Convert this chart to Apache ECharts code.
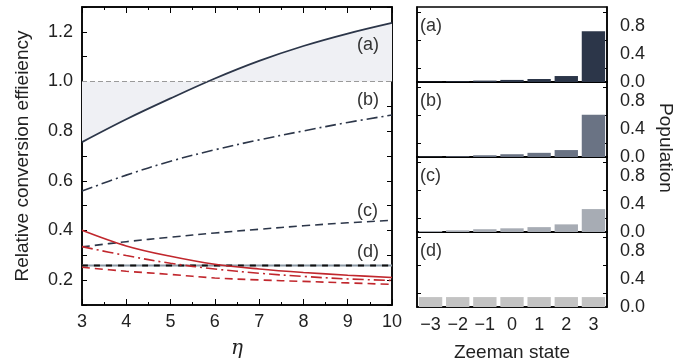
<!DOCTYPE html>
<html>
<head>
<meta charset="utf-8">
<script src="https://cdn.jsdelivr.net/npm/echarts/dist/echarts.min.js"></script>
<style>
  html, body { margin: 0; padding: 0; background: #fff; }
  #chart { width: 687px; height: 364px; }
</style>
</head>
<body>
<div id="chart"></div>
<script>
// --- data ---
const eta = [3, 4, 5, 6, 7, 8, 9, 10];
const effA = [0.756, 0.848, 0.932, 1.012, 1.083, 1.143, 1.193, 1.236];
const effB = [0.559, 0.623, 0.679, 0.725, 0.765, 0.801, 0.835, 0.865];
const effC = [0.334, 0.355, 0.373, 0.39, 0.405, 0.419, 0.431, 0.441];
const effD = [0.259, 0.259, 0.259, 0.259, 0.259, 0.259, 0.259, 0.259];
const redSolid = [0.401, 0.338, 0.296, 0.264, 0.245, 0.231, 0.22, 0.211];
const redDashDot = [0.335, 0.299, 0.268, 0.245, 0.228, 0.215, 0.205, 0.199];
const redDashed = [0.252, 0.236, 0.223, 0.209, 0.201, 0.195, 0.189, 0.183];
const referenceLevel = 1.0;

const zeemanStates = ['\u22123', '\u22122', '\u22121', '0', '1', '2', '3'];
const popA = [0.005, 0.01, 0.02, 0.03, 0.043, 0.086, 0.73];
const popB = [0.005, 0.01, 0.025, 0.04, 0.06, 0.10, 0.61];
const popC = [0.015, 0.024, 0.04, 0.053, 0.07, 0.11, 0.33];
const popD = [0.143, 0.143, 0.143, 0.143, 0.143, 0.143, 0.143];
const panelLabels = ['(a)', '(b)', '(c)', '(d)'];

const NAVY = '#2c3649';
const RED = '#c1272d';
const BAR_COLORS = ['#2c3649', '#6a7384', '#a7acb4', '#c3c3c3'];
const FONT = 'Liberation Sans';
const DASH = [8, 5];
const DASH_DOT = [11, 4, 2, 4];

const pairs = (ys) => eta.map((x, i) => [x, ys[i]]);

const chart = echarts.init(document.getElementById('chart'), null, { renderer: 'canvas' });

// layout
const leftGrid = { left: 82, top: 7, width: 310, height: 300 };
const panelLeft = 417, panelWidth = 190, panelTop = 7, panelH = 75;

const grids = [
  { ...leftGrid, show: true, borderColor: '#000', borderWidth: 1.5 },
];
for (let i = 0; i < 4; i++) {
  grids.push({ left: panelLeft, top: panelTop + i * panelH, width: panelWidth, height: panelH,
    show: true, borderColor: '#000', borderWidth: 1.5 });
}

const axisLine = { show: true, lineStyle: { color: '#000', width: 1.5 } };
const textStyle = { fontFamily: FONT, fontSize: 18, color: '#222' };

const xAxes = [
  {
    type: 'value', gridIndex: 0, min: 3, max: 10, interval: 1,
    axisLine, axisTick: { inside: true, length: 6, lineStyle: { color: '#000' } },
    minorTick: { show: true, splitNumber: 2, length: 3, lineStyle: { color: '#000' } },
    splitLine: { show: false },
    axisLabel: { ...textStyle, margin: 8 },
    name: '\u03b7', nameLocation: 'middle', nameGap: 34,
    nameTextStyle: { fontFamily: 'DejaVu Serif', fontStyle: 'italic', fontSize: 20, color: '#222' },
  },
  {
    type: 'value', gridIndex: 0, position: 'top', min: 3, max: 10, interval: 1,
    axisLine, axisTick: { inside: true, length: 6, lineStyle: { color: '#000' } },
    minorTick: { show: true, splitNumber: 2, length: 3, lineStyle: { color: '#000' } },
    splitLine: { show: false }, axisLabel: { show: false },
  },
];
const yAxes = [
  {
    type: 'value', gridIndex: 0, min: 0.1, max: 1.3, interval: 0.1,
    axisLine, axisTick: { inside: true, length: 5, lineStyle: { color: '#000' } },
    splitLine: { show: false },
    axisLabel: { ...textStyle, margin: 9,
      formatter: (v) => (Math.round(v * 10) % 2 === 0 ? v.toFixed(1) : '') },
    name: 'Relative conversion effieiency', nameLocation: 'middle', nameGap: 50,
    nameTextStyle: { ...textStyle, fontSize: 19 },
  },
  {
    type: 'value', gridIndex: 0, position: 'right', min: 0.1, max: 1.3, interval: 0.1,
    axisLine, axisTick: { inside: true, length: 5, lineStyle: { color: '#000' } },
    splitLine: { show: false }, axisLabel: { show: false },
  },
];

for (let i = 0; i < 4; i++) {
  const g = i + 1;
  xAxes.push({
    type: 'category', gridIndex: g, data: zeemanStates,
    axisLine, axisTick: { inside: true, alignWithLabel: true, length: 5, lineStyle: { color: '#000' } },
    axisLabel: { show: i === 3, ...textStyle, margin: 9 },
    name: i === 3 ? 'Zeeman state' : '', nameLocation: 'middle', nameGap: 36,
    nameTextStyle: { ...textStyle, fontSize: 19 },
  });
  yAxes.push({
    type: 'value', gridIndex: g, position: 'right', min: 0, max: 1.08, interval: 0.4,
    axisLine, axisTick: { inside: true, length: 5, lineStyle: { color: '#000' } },
    minorTick: { show: true, splitNumber: 2, length: 4, lineStyle: { color: '#000' } },
    splitLine: { show: false },
    axisLabel: { ...textStyle, margin: 13, showMaxLabel: false,
      formatter: (v) => (v <= 0.81 ? v.toFixed(1) : '') },
  });
  yAxes.push({
    type: 'value', gridIndex: g, position: 'left', min: 0, max: 1.08, interval: 0.4,
    axisLine, axisTick: { inside: true, length: 5, lineStyle: { color: '#000' } },
    minorTick: { show: true, splitNumber: 2, length: 4, lineStyle: { color: '#000' } },
    splitLine: { show: false }, axisLabel: { show: false },
  });
}
// top ticks on the first panel
xAxes.push({
  type: 'category', gridIndex: 1, position: 'top', data: zeemanStates,
  axisLine, axisTick: { inside: true, alignWithLabel: true, length: 5, lineStyle: { color: '#000' } },
  axisLabel: { show: false },
});

const lineSeries = (data, color, type, width, z) => ({
  type: 'line', xAxisIndex: 0, yAxisIndex: 0, data: pairs(data),
  smooth: 0.35, showSymbol: false, silent: true, z: z || 3,
  lineStyle: { color, width: width || 1.6, type },
});

const series = [
  {
    ...lineSeries(effA, NAVY, 'solid', 1.8, 4),
    areaStyle: { origin: referenceLevel, color: '#eff0f4', opacity: 1 },
    markLine: {
      silent: true, symbol: 'none', label: { show: false }, z: 5,
      lineStyle: { color: '#9a9a9a', type: [5, 3], width: 1 },
      data: [{ yAxis: referenceLevel }],
    },
  },
  lineSeries(effB, NAVY, DASH_DOT),
  lineSeries(effC, NAVY, DASH),
  lineSeries(effD, '#8c9aa6', 'solid', 2.2, 3),
  lineSeries(effD, '#111', [6, 6], 2.2, 4),
  lineSeries(redSolid, RED, 'solid', 1.6, 6),
  lineSeries(redDashDot, RED, DASH_DOT, 1.6, 6),
  lineSeries(redDashed, RED, DASH, 1.6, 6),
];

[popA, popB, popC, popD].forEach((pop, i) => {
  series.push({
    type: 'bar', xAxisIndex: 2 + i, yAxisIndex: 2 + i * 2, data: pop,
    barCategoryGap: '14%', silent: true,
    itemStyle: { color: BAR_COLORS[i] },
  });
});

const graphic = [];
// panel annotations
const leftLabelsY = [36, 91, 202, 243];
panelLabels.forEach((t, i) => {
  graphic.push({ type: 'text', left: 357, top: leftLabelsY[i], z: 100,
    style: { text: t, font: `18px "${FONT}"`, fill: '#333' } });
  graphic.push({ type: 'text', left: 420, top: panelTop + i * panelH + 10, z: 100,
    style: { text: t, font: `18px "${FONT}"`, fill: '#333' } });
});
graphic.push({
  type: 'text', x: 665, y: 148, rotation: -Math.PI / 2, z: 100,
  style: { text: 'Population', font: `19px "${FONT}"`, fill: '#222',
    align: 'center', verticalAlign: 'middle' },
});

chart.setOption({
  animation: false,
  grid: grids,
  xAxis: xAxes,
  yAxis: yAxes,
  series,
  graphic,
});
</script>
</body>
</html>
